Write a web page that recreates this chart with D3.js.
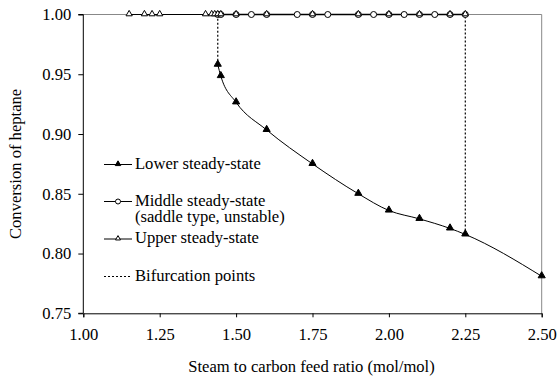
<!DOCTYPE html>
<html>
<head>
<meta charset="utf-8">
<script src="https://cdn.jsdelivr.net/npm/d3@7"></script>
<style>
  body { margin: 0; background: #fff; }
  #chart, #chart text { font-family: 'Liberation Serif', 'Times New Roman', serif; }
</style>
</head>
<body>
<svg id="chart" width="557" height="381"></svg>
<script>
// lower steady-state branch
const lowerX = [1.44, 1.45, 1.50, 1.60, 1.75, 1.90, 2.00, 2.10, 2.20, 2.25, 2.50];
const lowerY = [0.958, 0.9485, 0.9265, 0.9034, 0.875, 0.850, 0.836, 0.829, 0.821, 0.816, 0.781];

// middle steady-state (saddle, unstable)
const middleX = [1.44, 1.45, 1.50, 1.55, 1.60, 1.70, 1.75, 1.80, 1.90, 1.95, 2.00, 2.05, 2.10, 2.15, 2.20, 2.25];
const middleY = middleX.map(() => 1.0);

// upper steady-state
const upperX = [1.15, 1.20, 1.225, 1.25, 1.40, 1.42, 1.43, 1.44, 1.45, 1.50, 1.60, 1.75, 1.90, 2.00, 2.10, 2.20, 2.25];
const upperY = upperX.map(() => 1.0);

// bifurcation points [x, yLow, yHigh]
const bifurcations = [[1.44, 0.958, 1.0], [2.25, 0.816, 1.0]];

const xTicks = [1.00, 1.25, 1.50, 1.75, 2.00, 2.25, 2.50];
const yTicks = [0.75, 0.80, 0.85, 0.90, 0.95, 1.00];

const fontSize = 16.6;

const svg = d3.select('#chart');
const margin = { left: 83.3, right: 15.3, top: 14.5, bottom: 67.7 };
const width = 557 - margin.left - margin.right;
const height = 381 - margin.top - margin.bottom;

const x = d3.scaleLinear().domain([1.0, 2.5]).range([0, width]);
const y = d3.scaleLinear().domain([0.75, 1.0]).range([height, 0]);

const g = svg.append('g').attr('transform', `translate(${margin.left},${margin.top})`);

// grey frame on top and right
g.append('line').attr('x1', 0).attr('x2', width).attr('y1', 0).attr('y2', 0)
  .attr('stroke', '#888').attr('stroke-width', 1);
g.append('line').attr('x1', width).attr('x2', width).attr('y1', 0).attr('y2', height)
  .attr('stroke', '#888').attr('stroke-width', 1);

// axes
const xAxis = g.append('g').attr('transform', `translate(0,${height})`)
  .call(d3.axisBottom(x).tickValues(xTicks).tickFormat(d3.format('.2f')).tickSize(4).tickPadding(11));
const yAxis = g.append('g')
  .call(d3.axisLeft(y).tickValues(yTicks).tickFormat(d3.format('.2f')).tickSize(5).tickPadding(7));
[xAxis, yAxis].forEach(a => {
  a.attr('font-family', null).attr('font-size', fontSize);
  a.selectAll('text').attr('fill', '#000');
  a.selectAll('line').attr('stroke', '#000');
  a.select('.domain').attr('stroke', '#000');
});
yAxis.selectAll('.domain').attr('d', `M-5,${height}H0V0H-5`);

// bifurcation lines
bifurcations.forEach(b => {
  g.append('line')
    .attr('x1', x(b[0])).attr('x2', x(b[0]))
    .attr('y1', y(b[1])).attr('y2', y(b[2]))
    .attr('stroke', '#000').attr('stroke-width', 1.2).attr('stroke-dasharray', '2,2');
});

const line = d3.line().x(d => x(d[0])).y(d => y(d[1]));
const lowerLine = d3.line().x(d => x(d[0])).y(d => y(d[1])).curve(d3.curveMonotoneX);
const lowerData = lowerX.map((v, i) => [v, lowerY[i]]);
const middleData = middleX.map((v, i) => [v, middleY[i]]);
const upperData = upperX.map((v, i) => [v, upperY[i]]);

g.append('path').datum(upperData).attr('d', line).attr('fill', 'none').attr('stroke', '#000').attr('stroke-width', 1);
g.append('path').datum(middleData).attr('d', line).attr('fill', 'none').attr('stroke', '#000').attr('stroke-width', 1.3);
g.append('path').datum(lowerData).attr('d', lowerLine).attr('fill', 'none').attr('stroke', '#000').attr('stroke-width', 1);

const triFilled = d3.symbol().type(d3.symbolTriangle).size(22);
const triOpen = d3.symbol().type(d3.symbolTriangle).size(17);

function drawTri(sel, data, sym, filled) {
  sel.selectAll(null).data(data).enter().append('path')
    .attr('d', sym)
    .attr('transform', d => `translate(${x(d[0])},${y(d[1]) - 0.5})`)
    .attr('fill', filled ? '#000' : '#fff')
    .attr('stroke', '#000').attr('stroke-width', 1);
}
function drawCircles(sel, data) {
  sel.selectAll(null).data(data).enter().append('circle')
    .attr('cx', d => x(d[0])).attr('cy', d => y(d[1])).attr('r', 3)
    .attr('fill', '#fff').attr('stroke', '#000').attr('stroke-width', 1);
}

drawCircles(g.append('g'), middleData);
drawTri(g.append('g'), upperData, triOpen, false);
drawTri(g.append('g'), lowerData, triFilled, true);

// legend (smaller markers than the plot)
const legTriFilled = d3.symbol().type(d3.symbolTriangle).size(13);
const legTriOpen = d3.symbol().type(d3.symbolTriangle).size(11);
const legend = g.append('g').attr('font-size', fontSize);
const lx0 = 104 - margin.left, lx1 = 132 - margin.left, tx = 135 - margin.left;
const items = [
  { cy: 164.5, type: 'lower', label: ['Lower steady-state'] },
  { cy: 201.5, type: 'middle', label: ['Middle steady-state', '(saddle type, unstable)'] },
  { cy: 239, type: 'upper', label: ['Upper steady-state'] },
  { cy: 276.5, type: 'bif', label: ['Bifurcation points'] }
];
items.forEach(it => {
  const cy = it.cy - margin.top;
  const ln = legend.append('line').attr('x1', lx0).attr('x2', lx1).attr('y1', cy).attr('y2', cy)
    .attr('stroke', '#000').attr('stroke-width', 1);
  const mx = lx0 + 14;
  if (it.type === 'bif') ln.attr('stroke-dasharray', '2,2').attr('stroke-width', 1.2);
  if (it.type === 'lower') legend.append('path').attr('d', legTriFilled).attr('transform', `translate(${mx},${cy - 0.5})`).attr('fill', '#000').attr('stroke', '#000');
  if (it.type === 'upper') legend.append('path').attr('d', legTriOpen).attr('transform', `translate(${mx},${cy - 0.5})`).attr('fill', '#fff').attr('stroke', '#000');
  if (it.type === 'middle') legend.append('circle').attr('cx', mx).attr('cy', cy).attr('r', 2.5).attr('fill', '#fff').attr('stroke', '#000');
  it.label.forEach((t, i) => {
    legend.append('text').attr('x', tx).attr('y', cy + 4 + i * 16.8).attr('fill', '#000').text(t);
  });
});

// axis titles
svg.append('text').attr('x', margin.left + width / 2 - 1).attr('y', 372)
  .attr('text-anchor', 'middle').attr('font-size', fontSize)
  .text('Steam to carbon feed ratio (mol/mol)');
svg.append('text').attr('transform', `translate(21,${margin.top + height / 2}) rotate(-90)`)
  .attr('text-anchor', 'middle').attr('font-size', fontSize)
  .text('Conversion of heptane');
</script>
</body>
</html>
